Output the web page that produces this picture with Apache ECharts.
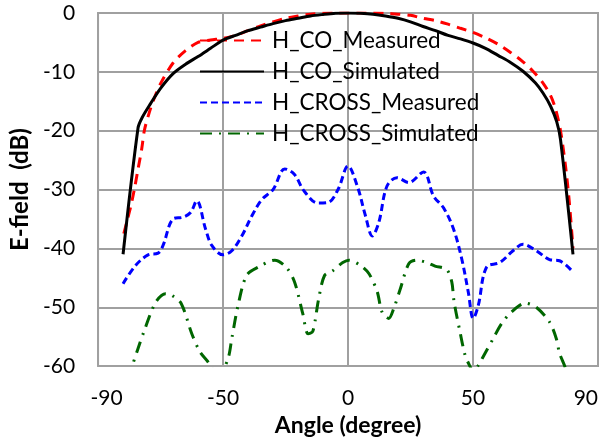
<!DOCTYPE html>
<html>
<head>
<meta charset="utf-8">
<script src="https://cdn.jsdelivr.net/npm/echarts@6/dist/echarts.min.js"></script>
<style>
html,body{margin:0;padding:0;background:#fff;}
#chart{width:613px;height:442px;}
</style>
</head>
<body>
<div id="chart"></div>
<script>
// ---- data ----
var seriesNames = ['H_CO_Measured', 'H_CO_Simulated', 'H_CROSS_Measured', 'H_CROSS_Simulated'];

var coMeasAngle = [-89.7, -88.5, -87, -85.5, -84, -82.5, -81.5, -80, -78, -75, -70, -65, -60, -55, -50, -45, -40, -35, -30, -25, -20, -15, -10, -5, 0, 5, 10, 15, 20, 25, 30, 35, 40, 45, 50, 55, 60, 65, 70, 74, 78, 81, 83, 85, 87, 88.5, 90];
var coMeasDb    = [-37.5, -35.5, -33, -30, -26.5, -23, -20, -17.6, -15, -12, -8.5, -6.4, -5.0, -4.6, -4.3, -3.8, -3.0, -2.2, -1.5, -0.9, -0.5, -0.2, -0.05, 0, 0, 0, 0, -0.05, -0.2, -0.4, -0.9, -1.3, -1.9, -2.6, -3.3, -4.2, -5.3, -6.7, -8.3, -9.9, -11.9, -14, -16.3, -20, -26, -32, -40];

var coSimAngle = [-90, -84, -82.4, -79, -75, -70, -65, -60, -55, -50, -45, -40, -35, -30, -25, -20, -15, -10, -5, 0, 5, 10, 15, 20, 25, 30, 35, 40, 45, 50, 55, 60, 65, 70, 75, 78, 81, 83.5, 85, 90];
var coSimDb    = [-41, -19.5, -17.8, -15.4, -12.8, -10.3, -8.7, -7.4, -6.0, -4.6, -3.8, -3.0, -2.4, -1.8, -1.3, -0.9, -0.5, -0.25, -0.05, 0, -0.05, -0.2, -0.5, -0.9, -1.5, -2.3, -3.0, -3.8, -4.4, -5.1, -6.0, -7.2, -8.4, -9.9, -11.9, -13.6, -15.8, -18.5, -21.5, -41];

var crossMeasAngle = [-90, -85, -80, -76, -74, -70, -66, -63, -60.5, -57, -54.5, -50, -46.5, -42.5, -38.5, -34.5, -30, -25.3, -21.5, -17.5, -12, -8, -4, 0, 3.7, 7, 9.7, 12.3, 15.6, 19.6, 24.3, 30.2, 34.2, 38.2, 42.2, 45.5, 48.1, 50.1, 52.1, 55.4, 60.7, 66, 70, 75.3, 80.6, 84.6, 90];
var crossMeasDb    = [-46, -42.9, -41.1, -40.8, -39.5, -35, -34.7, -33.9, -31.9, -36.7, -39.5, -41.1, -40.4, -37.9, -34.5, -31.7, -30, -26.5, -27.4, -30.3, -32.3, -32.2, -30, -26, -29.4, -34.5, -37.9, -35.6, -29.4, -28, -28.8, -27, -31.1, -33.1, -36.7, -41.8, -47.4, -51.9, -49.7, -43.2, -42.4, -40.4, -39.3, -40.4, -41.9, -42.1, -44];

var crossSimAngle = [-90, -87, -84, -81.7, -77, -73, -70.4, -66.7, -62.5, -59.2, -55.8, -52, -48, -46.5, -44, -40.6, -36, -29.3, -24.7, -21.4, -18.1, -16, -14.1, -11.8, -9.4, -6.1, -2.1, 0.4, 5, 8.4, 11.7, 13.6, 16.3, 18.3, 20.9, 24.3, 27.3, 31.5, 34.8, 39.5, 41.5, 42.4, 44.8, 46.8, 48.5, 50.2, 52.2, 55.1, 58.1, 61.4, 65.4, 71, 75.3, 80.6, 83.3, 84.6, 87, 90];
var crossSimDb    = [-67, -61, -57, -54.2, -49.2, -47.7, -48, -49.4, -54.5, -57.6, -59.4, -62, -58.7, -55.3, -49.7, -44.6, -43.2, -42, -43.2, -45.7, -51.1, -54.5, -54.1, -48.7, -44.6, -43.8, -42.4, -42, -42.9, -44.3, -47.4, -50.8, -51.9, -50.2, -46.9, -42.6, -42, -42.4, -43, -43.6, -45.7, -49, -54.2, -58.1, -59.8, -61, -59.8, -57.6, -55.3, -52.8, -50.8, -49.3, -50, -52.5, -55.3, -57.8, -60.4, -66];

var xTickValues = [-100, -50, 0, 50, 100];
var xTickLabels = ['-90', '-50', '0', '50', '90'];
var yTicks = [-60, -50, -40, -30, -20, -10, 0];

function zip(a, b) { return a.map(function (v, i) { return [v, b[i]]; }); }

var FONT = 'Lato';
var chart = echarts.init(document.getElementById('chart'), null, {renderer: 'canvas'});
chart.setOption({
  animation: false,
  backgroundColor: '#fff',
  grid: {left: 94, top: 13, width: 504, height: 355, show: true, borderColor: '#a0a0a0', borderWidth: 2, containLabel: false},
  legend: {
    orient: 'vertical', left: 194, top: 24, itemWidth: 64, itemHeight: 14, itemGap: 8,
    data: seriesNames,
    itemStyle: {color: 'rgba(0,0,0,0)', borderWidth: 0, opacity: 0},
    textStyle: {fontFamily: FONT, fontSize: 22.5, lineHeight: 22, color: '#000', padding: [0, 0, 0, 3]}
  },
  xAxis: {
    type: 'value', min: -100, max: 100, interval: 50,
    name: 'Angle (degree)', nameLocation: 'middle', nameGap: 41,
    nameTextStyle: {fontFamily: FONT, fontSize: 23, fontWeight: 'bold', color: '#000'},
    axisLine: {show: true, lineStyle: {color: '#a0a0a0', width: 2}},
    axisTick: {show: false},
    splitLine: {show: true, lineStyle: {color: '#a0a0a0', width: 2}},
    axisLabel: {
      fontFamily: FONT, fontSize: 21, color: '#000', margin: 22,
      alignMaxLabel: 'right',
      formatter: function (v) {
        var i = xTickValues.indexOf(v);
        var t = i >= 0 ? xTickLabels[i] : '';
        if (v === -100) return '{m|' + t + '}';
        return t;
      },
      rich: {m: {fontFamily: FONT, fontSize: 21, color: '#000', padding: [0, 0, 0, 17]}}
    }
  },
  yAxis: {
    type: 'value', min: -60, max: 0, interval: 10,
    name: 'E-field  (dB)', nameLocation: 'middle', nameGap: 47, nameRotate: 90,
    nameTextStyle: {fontFamily: FONT, fontSize: 24, fontWeight: 'bold', color: '#000'},
    axisLine: {show: true, lineStyle: {color: '#a0a0a0', width: 2}},
    axisTick: {show: false},
    splitLine: {show: true, lineStyle: {color: '#a0a0a0', width: 2}},
    axisLabel: {fontFamily: FONT, fontSize: 21, color: '#000', margin: 23,
      formatter: function (v) { return yTicks.indexOf(v) >= 0 ? String(v) : ''; }}
  },
  series: [
    {name: seriesNames[0], type: 'line', data: zip(coMeasAngle, coMeasDb), symbol: 'none', smooth: 0.3, z: 3,
     lineStyle: {color: '#ff0000', width: 3, type: [10, 7]}, itemStyle: {color: '#ff0000'}},
    {name: seriesNames[1], type: 'line', data: zip(coSimAngle, coSimDb), symbol: 'none', smooth: 0.3, z: 4,
     lineStyle: {color: '#000000', width: 3, type: 'solid'}, itemStyle: {color: '#000000'}},
    {name: seriesNames[2], type: 'line', data: zip(crossMeasAngle, crossMeasDb), symbol: 'none', smooth: 0.35, z: 3,
     lineStyle: {color: '#0000ff', width: 3, type: [7, 4]}, itemStyle: {color: '#0000ff'}},
    {name: seriesNames[3], type: 'line', data: zip(crossSimAngle, crossSimDb), symbol: 'none', smooth: 0.3, z: 3,
     lineStyle: {color: '#006600', width: 3, type: [12, 7, 2, 7]}, itemStyle: {color: '#006600'}}
  ]
});
</script>
</body>
</html>
